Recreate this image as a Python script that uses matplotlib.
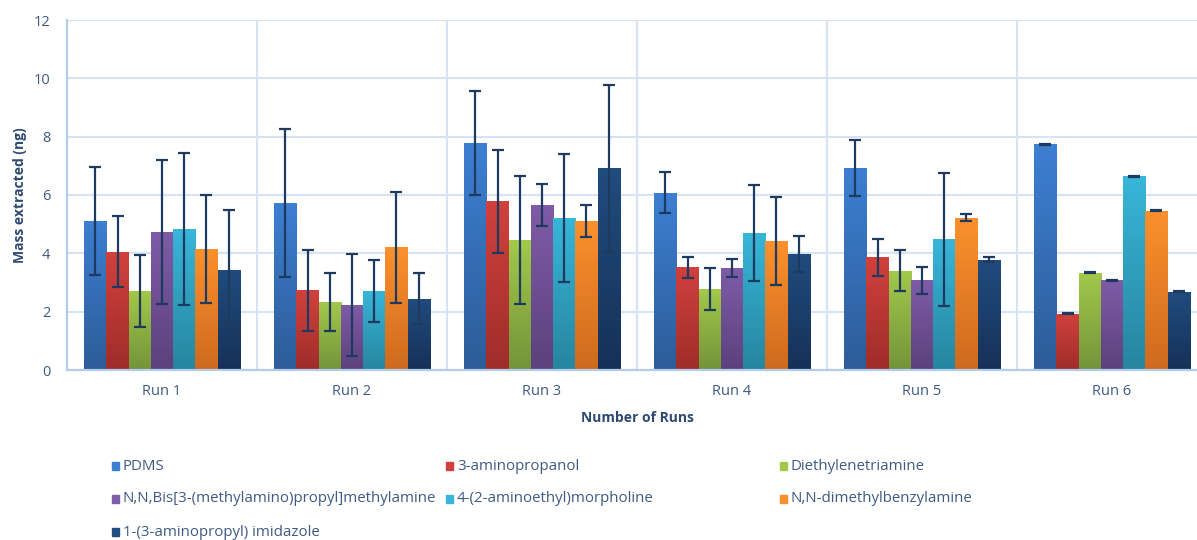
import numpy as np
import matplotlib.pyplot as plt
from matplotlib.colors import LinearSegmentedColormap
from matplotlib.patches import Rectangle

plt.rcParams['font.family'] = ['Open Sans', 'DejaVu Sans']

runs = ['Run 1', 'Run 2', 'Run 3', 'Run 4', 'Run 5', 'Run 6']
series = ['PDMS', '3-aminopropanol', 'Diethylenetriamine',
          'N,N,Bis[3-(methylamino)propyl]methylamine',
          '4-(2-aminoethyl)morpholine', 'N,N-dimethylbenzylamine',
          '1-(3-aminopropyl) imidazole']

pdms = [5.11, 5.73, 7.77, 6.08, 6.92, 7.74]
aminopropanol = [4.06, 2.74, 5.78, 3.52, 3.86, 1.93]
diethylenetriamine = [2.72, 2.33, 4.46, 2.78, 3.40, 3.34]
bis_methylamine = [4.74, 2.23, 5.65, 3.50, 3.07, 3.07]
morpholine = [4.83, 2.71, 5.22, 4.71, 4.48, 6.64]
benzylamine = [4.15, 4.21, 5.11, 4.42, 5.22, 5.46]
imidazole = [3.43, 2.44, 6.91, 3.99, 3.78, 2.68]

pdms_err = [1.86, 2.53, 1.78, 0.70, 0.97, 0.02]
aminopropanol_err = [1.23, 1.39, 1.78, 0.35, 0.63, 0.02]
diethylenetriamine_err = [1.24, 0.98, 2.20, 0.72, 0.70, 0.02]
bis_methylamine_err = [2.46, 1.75, 0.72, 0.30, 0.46, 0.02]
morpholine_err = [2.60, 1.05, 2.19, 1.65, 2.27, 0.02]
benzylamine_err = [1.85, 1.90, 0.55, 1.52, 0.12, 0.02]
imidazole_err = [2.04, 0.87, 2.85, 0.62, 0.08, 0.02]

values = [pdms, aminopropanol, diethylenetriamine, bis_methylamine,
          morpholine, benzylamine, imidazole]
errors = [pdms_err, aminopropanol_err, diethylenetriamine_err,
          bis_methylamine_err, morpholine_err, benzylamine_err, imidazole_err]

# (top, bottom) colours for the vertical gradient fill of each series
colors = [('#3D7FD2', '#2D5C98'), ('#D1413D', '#9E2D2A'),
          ('#A3C94C', '#74933A'), ('#7E5CA7', '#5C417D'),
          ('#38B6D9', '#27859E'), ('#FB912D', '#CE6A1F'),
          ('#204C7E', '#163158')]

text_c = '#3E5A82'
label_c = '#2E4A72'

fig = plt.figure(figsize=(11.97, 5.40), dpi=100)
ax = fig.add_axes([67 / 1197, 1 - 370 / 540, 1140 / 1197, 350 / 540])

x = np.arange(len(runs))
width = 0.117
grad = np.linspace(1, 0, 256).reshape(-1, 1)

for i, (vals, errs) in enumerate(zip(values, errors)):
    pos = x + (i - 3) * width
    bars = ax.bar(pos, vals, width, color=colors[i][0], zorder=2,
                  linewidth=0)
    cmap = LinearSegmentedColormap.from_list('g%d' % i, [colors[i][1], colors[i][0]])
    for rect in bars:
        x0, w, h = rect.get_x(), rect.get_width(), rect.get_height()
        im = ax.imshow(grad, cmap=cmap, extent=(x0, x0 + w, 0, h),
                       aspect='auto', origin='upper', zorder=2.5)
        im.set_clip_path(rect)
    ax.errorbar(pos, vals, yerr=errs, fmt='none', ecolor='#1E3A5F',
                elinewidth=1.6, capsize=4, capthick=1.6, zorder=4)

ax.set_xlim(-0.5, 5.5)
ax.set_ylim(0, 12)
ax.set_yticks(range(0, 13, 2))
ax.set_xticks(x)
ax.set_xticklabels(runs)

grid_c = '#D6E3F3'
ax.yaxis.grid(True, color=grid_c, linewidth=1.5, zorder=0)
for b in np.arange(0.5, 6, 1):
    ax.axvline(b, color=grid_c, linewidth=1.5, zorder=0)
ax.set_axisbelow(True)
for s in ['top', 'right']:
    ax.spines[s].set_visible(False)
for s in ['left', 'bottom']:
    ax.spines[s].set_color('#B3CCEC')
    ax.spines[s].set_linewidth(1.6)
ax.tick_params(length=0, labelsize=10.5, labelcolor=text_c)
ax.tick_params(axis='x', pad=10)
ax.tick_params(axis='y', pad=12)

ax.set_ylabel('Mass extracted (ng)', fontsize=10, fontweight='bold',
              color=label_c, labelpad=5)
fig.text(637 / 1197, 1 - 418 / 540, 'Number of Runs', fontsize=10,
         fontweight='bold', color=label_c, ha='center', va='center')

# legend laid out in three fixed-width columns
col_x = [112, 446, 780]
row_y = [466, 499, 532]
for i, name in enumerate(series):
    cx = col_x[i % 3]
    cy = row_y[i // 3]
    fig.add_artist(Rectangle((cx / 1197, 1 - (cy + 4) / 540), 7 / 1197, 8 / 540,
                             transform=fig.transFigure, color=colors[i][0]))
    fig.text((cx + 11) / 1197, 1 - cy / 540, name, fontsize=10.8,
             color=text_c, ha='left', va='center')

fig.savefig('out.png', dpi=100)
